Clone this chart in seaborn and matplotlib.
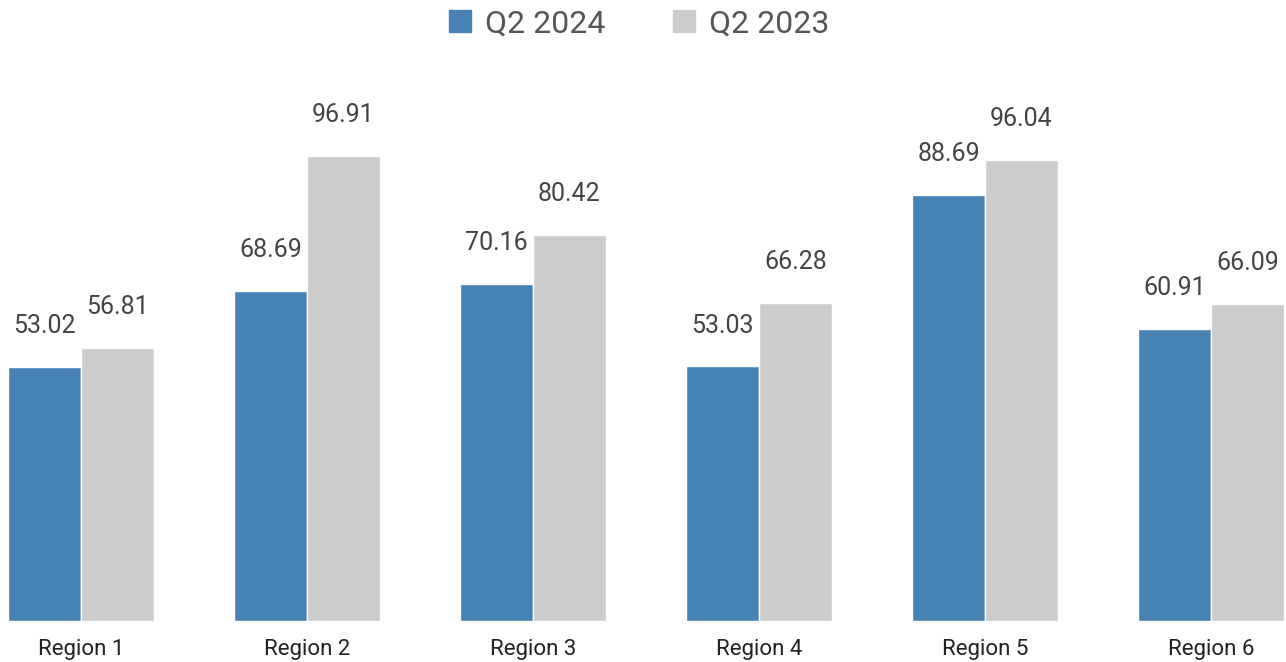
import pandas as pd
import seaborn as sns
from matplotlib import pyplot as plt

# data
regions = ["Region 1", "Region 2", "Region 3", "Region 4", "Region 5", "Region 6"]
q2_2024 = [53.02, 68.69, 70.16, 53.03, 88.69, 60.91]
q2_2023 = [56.81, 96.91, 80.42, 66.28, 96.04, 66.09]
series = ["Q2 2024", "Q2 2023"]
colors = ["#4682b4", "#cccccc"]

df = pd.DataFrame({
    "region": regions * 2,
    "value": q2_2024 + q2_2023,
    "series": [series[0]] * len(regions) + [series[1]] * len(regions),
})

sns.set_style("white")
plt.rcParams["font.family"] = ["Roboto", "DejaVu Sans"]

fig = plt.figure(figsize=(12.86, 6.62), dpi=100)
ax = fig.add_axes([0, 41 / 662, 1, 526 / 662])

sns.barplot(data=df, x="region", y="value", hue="series", palette=colors,
            saturation=1, width=0.646, edgecolor="white", linewidth=1,
            ax=ax, legend=False)

for cont in ax.containers:
    for bar in cont:
        h = bar.get_height()
        ax.annotate(f"{h:.2f}", (bar.get_x() + bar.get_width() / 2, h),
                    xytext=(0, 29.5), textcoords="offset points",
                    ha="center", va="center", fontsize=18, color="#444444")

ax.set_ylim(0, 109.6)
ax.set_xlim(-0.358, 5.332)
ax.set_xlabel("")
ax.set_ylabel("")
ax.set_yticks([])
ax.tick_params(axis="x", length=0, labelsize=16, labelcolor="#222222", pad=13)
for s in ax.spines.values():
    s.set_visible(False)

handles = [plt.Rectangle((0, 0), 1, 1, color=c) for c in colors]
fig.legend(handles, series, loc="upper center", bbox_to_anchor=(0.497, 1.015),
           ncol=2, frameon=False, fontsize=23, labelcolor="#555555",
           handlelength=0.69, handleheight=0.69, handletextpad=0.45,
           columnspacing=2.1, borderaxespad=0.2)

fig.savefig("out.png", dpi=100)
